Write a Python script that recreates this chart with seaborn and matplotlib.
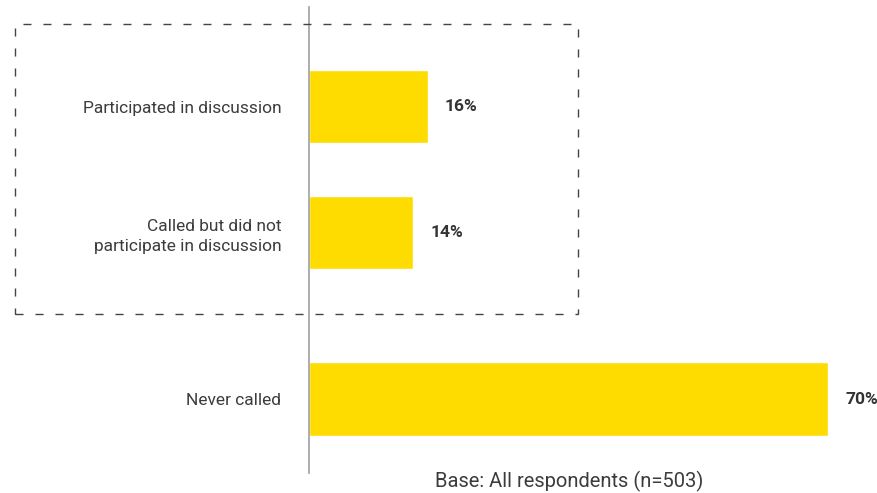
import matplotlib
matplotlib.use("Agg")
import matplotlib.pyplot as plt
import seaborn as sns
import pandas as pd
from matplotlib.patches import Rectangle

# Survey categories and shares (%)
categories = ["Participated in discussion",
              "Called but did not\nparticipate in discussion",
              "Never called"]
shares = [16, 14, 70]
value_labels = ["16%", "14%", "70%"]
base_note = "Base: All respondents (n=503)"

# Vertical slots for the bars (extra gap before the last group)
slots = [0.0, 1.0, 2.32]

df = pd.DataFrame({"category": categories, "share": shares, "slot": slots})

sns.set_theme(style="white")
plt.rcParams["font.family"] = ["Roboto", "DejaVu Sans"]

W, H = 878, 493
fig = plt.figure(figsize=(W / 100, H / 100), dpi=100)
ax = fig.add_axes([309 / W, 1 - 473 / H, (W - 309) / W, (473 - 7) / H])

sns.barplot(data=df, x="share", y="slot", orient="h", native_scale=True,
            color="#FFDC00", saturation=1, width=0.585, ax=ax, errorbar=None)

ax.set_xlim(0, 76.75)
ax.set_ylim(2.907, -0.79)
ax.set_yticks(slots)
ax.set_yticklabels(categories, fontsize=12.5, color="#3c3c3c",
                   linespacing=1.4)
ax.tick_params(axis="y", length=0, pad=20)
ax.set_xticks([])
ax.set_xlabel("")
ax.set_ylabel("")
for side in ["top", "right", "bottom"]:
    ax.spines[side].set_visible(False)
ax.spines["left"].set_color("#A0A0A0")
ax.spines["left"].set_linewidth(1.2)

ax.bar_label(ax.containers[0], labels=value_labels, padding=12.5,
             fontsize=12.5, fontweight="bold", color="#333333")

# Dashed frame around the "called" group
frame = Rectangle((15 / W, 1 - 314 / H), (578 - 15) / W, (314 - 24) / H,
                  transform=fig.transFigure, fill=False, edgecolor="#444444",
                  linewidth=1.0, linestyle=(0, (5.8, 8.6)), clip_on=False)
fig.add_artist(frame)

fig.text(569 / W, 1 - 481 / H, base_note, ha="center", va="center",
         fontsize=14.5, color="#3c3c3c")

fig.savefig("out.png", dpi=100)
